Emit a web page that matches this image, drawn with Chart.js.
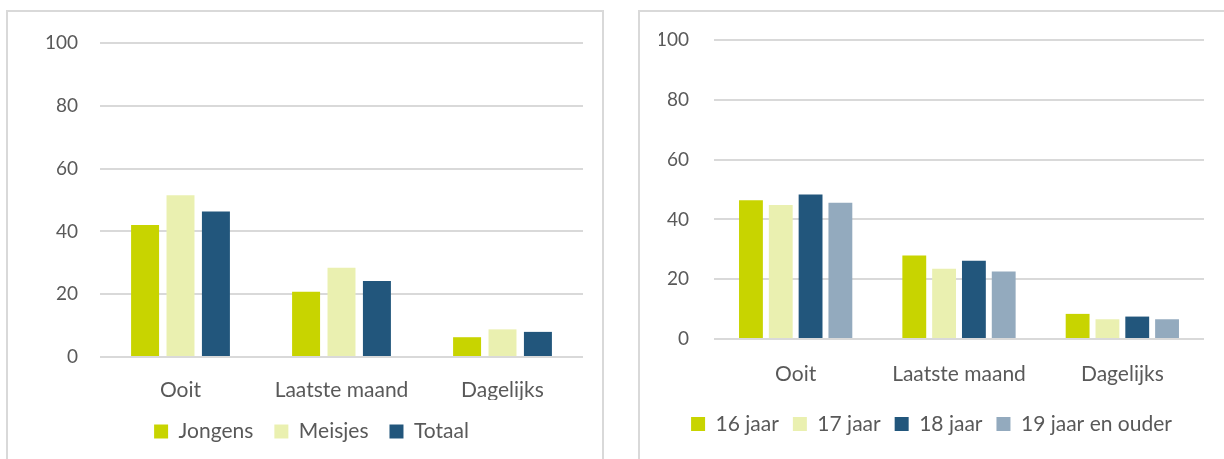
<!DOCTYPE html>
<html>
<head>
<meta charset="utf-8">
<script src="https://cdn.jsdelivr.net/npm/chart.js@4.4.1/dist/chart.umd.min.js"></script>
<style>
    html, body { margin: 0; padding: 0; background: #ffffff; overflow: hidden; }
    body { width: 1224px; height: 459px; position: relative; }
    .chartbox { position: absolute; border: 2px solid #d9d9d9; border-bottom: none; background: #fff; }
    #boxleft { left: 6px; top: 10px; width: 594px; height: 460px; }
    #boxright { left: 638px; top: 10px; width: 600px; height: 460px; }
    .chartbox canvas { position: absolute; left: 0; top: 0; }
</style>
</head>
<body>
<div class="chartbox" id="boxleft"><canvas id="geslacht" width="594" height="447"></canvas></div>
<div class="chartbox" id="boxright"><canvas id="leeftijd" width="583" height="446"></canvas></div>
<script>
'use strict'

/* data */
var categories = ['Ooit', 'Laatste maand', 'Dagelijks'];

var geslachtLabels = ['Jongens', 'Meisjes', 'Totaal'];
var jongens = [42, 20.8, 6.3];
var meisjes = [51.5, 28.4, 8.8];
var totaal = [46.3, 24.2, 8];

var leeftijdLabels = ['16 jaar', '17 jaar', '18 jaar', '19 jaar en ouder'];
var jaar16 = [46.4, 27.9, 8.4];
var jaar17 = [44.8, 23.5, 6.6];
var jaar18 = [48.3, 26.2, 7.5];
var jaar19 = [45.6, 22.6, 6.6];

var yTicks = [0, 20, 40, 60, 80, 100];

var colors = ['#c8d400', '#eaf0b0', '#22567c', '#93aabe'];

Chart.defaults.font.family = 'Lato, "Open Sans", sans-serif';
Chart.defaults.font.size = 19;
Chart.defaults.color = '#595959';
Chart.defaults.animation = false;

function makeConfig(labels, series, opt) {
    var datasets = series.map(function (values, i) {
        return {
            label: labels[i],
            data: values,
            backgroundColor: colors[i],
            borderWidth: 0,
            categoryPercentage: opt.catPct,
            barPercentage: opt.barPct
        };
    });
    return {
        type: 'bar',
        data: { labels: categories, datasets: datasets },
        options: {
            responsive: false,
            layout: {
                padding: { top: opt.padTop, right: opt.padRight, bottom: opt.padBottom, left: opt.padLeft }
            },
            plugins: {
                tooltip: { enabled: false },
                legend: {
                    position: 'bottom',
                    labels: {
                        boxWidth: 14,
                        boxHeight: 14,
                        padding: opt.legendPad,
                        color: '#595959',
                        font: { size: 21 }
                    }
                }
            },
            scales: {
                x: {
                    grid: { display: false, drawTicks: false },
                    border: { display: false },
                    ticks: { padding: opt.xPad, maxRotation: 0, autoSkip: false, font: { size: 21 } },
                    afterFit: function (scale) { scale.height = opt.xHeight; }
                },
                y: {
                    min: 0,
                    max: 100,
                    afterBuildTicks: function (scale) {
                        scale.ticks = yTicks.map(function (v) { return { value: v }; });
                    },
                    // invisible tick marks keep the labels away from the plot
                    grid: { color: '#d9d9d9', lineWidth: 2, drawTicks: true, tickLength: opt.yGap, tickColor: 'rgba(0,0,0,0)' },
                    border: { display: false },
                    ticks: { padding: 0 },
                    afterFit: function (scale) { scale.width = opt.yWidth; }
                }
            }
        }
    };
}

/* links: geslacht */
var chartGeslacht = new Chart(document.getElementById('geslacht').getContext('2d'),
    makeConfig(geslachtLabels, [jongens, meisjes, totaal], {
        catPct: 0.66, barPct: 0.79,
        padTop: 31, padRight: 19, padBottom: 7, padLeft: 32,
        xPad: 21, xHeight: 43, yGap: 22, yWidth: 60, legendPad: 21
    }));

/* rechts: leeftijd */
var chartLeeftijd = new Chart(document.getElementById('leeftijd').getContext('2d'),
    makeConfig(leeftijdLabels, [jaar16, jaar17, jaar18, jaar19], {
        catPct: 0.73, barPct: 0.8,
        padTop: 28, padRight: 19, padBottom: 13.5, padLeft: 19,
        xPad: 23, xHeight: 60.5, yGap: 25, yWidth: 55, legendPad: 14
    }));
</script>
</body>
</html>
